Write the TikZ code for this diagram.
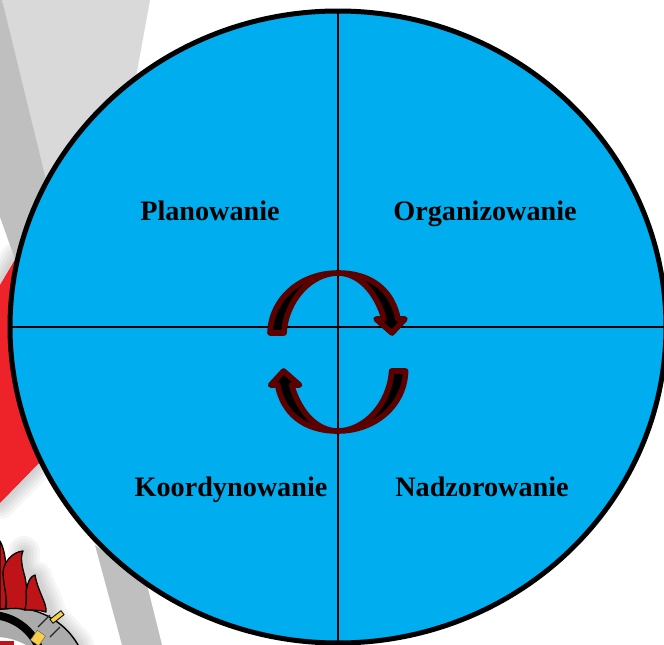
\documentclass[tikz,border=0pt]{standalone}
\usepackage{fontspec}
\setmainfont{Liberation Serif}
\definecolor{disc}{HTML}{00AEEF}
\definecolor{redband}{HTML}{EE2229}
\definecolor{lightband}{HTML}{D9D9D9}
\definecolor{darkband}{HTML}{BFBFBF}
\definecolor{flame}{HTML}{BE1418}
\definecolor{maroon}{HTML}{5C0000}
\definecolor{crestgray}{HTML}{ABABAB}
\definecolor{crestyellow}{HTML}{F7CF4A}
\tikzset{
  label/.style={font=\fontsize{28.2}{32}\selectfont\bfseries,text=black,inner sep=0pt,anchor=base},
  cycarrow/.style={draw=maroon,fill=black,line width=5.6pt,line join=round},
  softshade/.style={draw=black,opacity=0.035,line cap=round,line join=round},
  crestline/.style={draw=black!85,line width=1.2pt},
  flameshape/.style={draw=black,line width=1.3pt,line join=round,fill=flame},
}
\newcommand{\softedge}[1]{%
  \foreach \w in {32,26,20,14,8}{\draw[softshade,line width=\w pt] #1;}%
}
\newcommand{\cycpath}{(270,333) .. controls (271,299) and (300,273) .. (338,273)
  .. controls (373,273) and (393,292) .. (398,319) -- (405,319) -- (392,333) -- (376,319) -- (384,319)
  .. controls (376,291) and (358,273) .. (338,273)
  .. controls (311,273) and (286,300) .. (284,333) -- cycle}
\begin{document}
\begin{tikzpicture}[x=1pt,y=-1pt]
\useasboundingbox (0,0) rectangle (664,645);
\clip (0,0) rectangle (664,645);
\fill[white] (0,0) rectangle (664,645);
% background bands
\softedge{(0,503) -- (40,462)}
\softedge{(0,285) -- (16,258)}
\fill[lightband] (2,0) -- (150,0) -- (130,110) -- (46,190) -- cycle;
\fill[darkband] (0,0) -- (2,0) -- (46,180) -- (16,262) -- (0,217) -- cycle;
\fill[redband] (0,285) -- (16,258) -- (60,300) -- (60,440) -- (40,462) -- (0,503) -- cycle;
\fill[darkband] (95,545) -- (122,645) -- (162,645) -- (147,585) -- cycle;
% crest: soft shadow
\softedge{(24,552) .. controls (22,572) and (30,575) .. (36,577) .. controls (40,590) and (48,600) .. (50,614) -- (78,645)}
% crest: ring
\draw[black,line width=1.4pt,fill=crestgray] (14,682) circle (74);
\draw[black,line width=8pt] (-10,668) circle (53);
\fill[white] (-5,700) circle (63);
\fill[flame] (0,641) rectangle (14,645);
% crest: radial ticks and yellow plates
\draw[crestline] (38,627) -- (50,615);
\draw[crestline] (50,637) -- (60,627);
\draw[black,line width=0.8pt,fill=crestyellow,rotate around={38:(57,617)}] (50,614.5) rectangle (64,619.5);
\draw[black!60,line width=0.5pt,fill=crestyellow,rotate around={-35:(38,638)}] (33,632) rectangle (43,644);
% crest: flames
\draw[flameshape] (0,541) .. controls (4,548) and (6,560) .. (6,570)
  .. controls (6,580) and (8,595) .. (5,609) -- (0,609) -- cycle;
\draw[flameshape] (23,551) .. controls (12,552) and (4,562) .. (3,572)
  .. controls (3,585) and (8,598) .. (6,609)
  .. controls (12,608) and (20,608) .. (25,610)
  .. controls (28,598) and (27,588) .. (25,577)
  .. controls (22,567) and (20,557) .. (23,551) -- cycle;
\draw[flameshape] (35,575) .. controls (31,576) and (28,580) .. (26,592)
  .. controls (27,598) and (26,604) .. (25,610)
  .. controls (32,610) and (40,610) .. (46,612)
  .. controls (47,603) and (38,592) .. (35,575) -- cycle;
% disc
\draw[black,line width=5pt,fill=disc] (338,327) ellipse [x radius=328,y radius=316];
\coordinate (top) at (338,13);
\coordinate (bottom) at (338,641);
\coordinate (left) at (12,327);
\coordinate (right) at (664,327);
\draw[black,line width=1.8pt] (top) -- (bottom);
\draw[black,line width=1.8pt] (left) -- (right);
% cycle arrows
\draw[cycarrow] \cycpath;
\draw[cycarrow,rotate around={180:(337.8,352)}] \cycpath;
% labels
\node[label] (plan) at (210,220) {Planowanie};
\node[label] (org) at (485,220) {Organizowanie};
\node[label] (koord) at (231,496) {Koordynowanie};
\node[label] (nadz) at (482,496) {Nadzorowanie};
\end{tikzpicture}
\end{document}
